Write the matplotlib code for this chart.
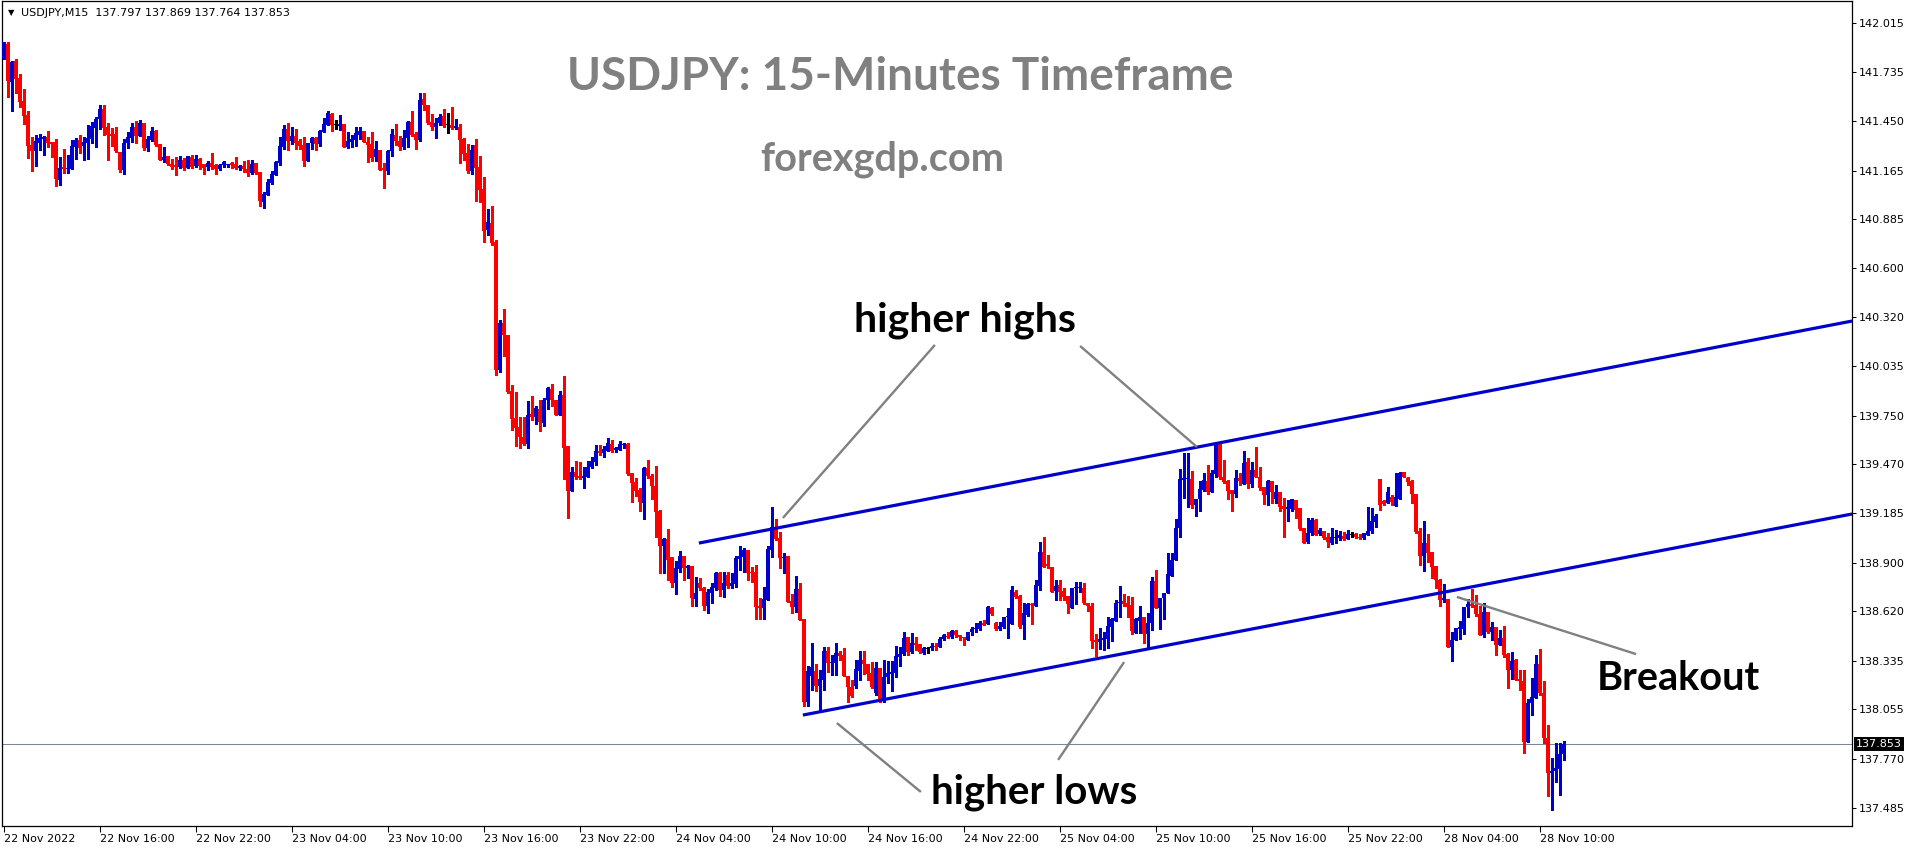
import matplotlib
matplotlib.use("Agg")
import matplotlib.pyplot as plt
import numpy as np

# ---------------- data (USDJPY M15 candles) ----------------
opens = [
141.809, 141.896, 141.676, 141.797, 141.699, 141.566, 141.486, 141.312, 141.278, 141.324,
141.347, 141.359, 141.330, 141.330, 141.110, 141.185, 141.174, 141.174, 141.301, 141.341,
141.307, 141.324, 141.347, 141.411, 141.462, 141.520, 141.416, 141.376, 141.376, 141.272,
141.168, 141.324, 141.353, 141.416, 141.364, 141.439, 141.295, 141.341, 141.393, 141.318,
141.226, 141.249, 141.203, 141.197, 141.185, 141.226, 141.180, 141.243, 141.191, 141.232,
141.203, 141.185, 141.208, 141.197, 141.174, 141.197, 141.197, 141.208, 141.203, 141.180,
141.191, 141.174, 141.151, 141.208, 141.157, 140.983, 141.024, 141.093, 141.139, 141.208,
141.301, 141.405, 141.335, 141.364, 141.335, 141.312, 141.220, 141.324, 141.353, 141.318,
141.387, 141.428, 141.491, 141.428, 141.422, 141.434, 141.301, 141.330, 141.341, 141.370,
141.393, 141.330, 141.318, 141.243, 141.284, 141.180, 141.162, 141.278, 141.370, 141.335,
141.301, 141.353, 141.445, 141.376, 141.341, 141.578, 141.543, 141.445, 141.416, 141.439,
141.480, 141.428, 141.428, 141.411, 141.416, 141.347, 141.266, 141.162, 141.312, 141.185,
141.058, 140.822, 140.862, 140.752, 140.013, 140.285, 140.215, 139.892, 139.736, 139.684,
139.626, 139.586, 139.759, 139.742, 139.788, 139.707, 139.840, 139.904, 139.840, 139.753,
139.869, 139.574, 139.315, 139.424, 139.401, 139.390, 139.396, 139.453, 139.482, 139.546,
139.534, 139.546, 139.586, 139.551, 139.551, 139.580, 139.586, 139.419, 139.367, 139.320,
139.245, 139.447, 139.401, 139.343, 139.199, 138.997, 139.037, 138.934, 138.783, 138.864,
138.940, 138.870, 138.882, 138.691, 138.783, 138.754, 138.651, 138.726, 138.754, 138.841,
138.743, 138.830, 138.766, 138.778, 138.922, 138.934, 138.974, 138.847, 138.847, 138.651,
138.639, 138.685, 138.974, 139.101, 139.043, 138.928, 138.940, 138.680, 138.645, 138.749,
138.575, 138.096, 138.247, 138.275, 138.189, 138.223, 138.391, 138.322, 138.322, 138.379,
138.368, 138.247, 138.183, 138.189, 138.275, 138.339, 138.316, 138.264, 138.148, 138.293,
138.114, 138.241, 138.258, 138.264, 138.356, 138.373, 138.471, 138.385, 138.437, 138.431,
138.379, 138.408, 138.408, 138.420, 138.414, 138.460, 138.477, 138.471, 138.506, 138.483,
138.471, 138.454, 138.500, 138.517, 138.517, 138.552, 138.546, 138.639, 138.552, 138.517,
138.529, 138.587, 138.546, 138.731, 138.708, 138.541, 138.599, 138.662, 138.651, 138.766,
138.963, 138.893, 138.876, 138.737, 138.772, 138.737, 138.708, 138.639, 138.754, 138.754,
138.754, 138.668, 138.651, 138.454, 138.443, 138.454, 138.460, 138.529, 138.564, 138.668,
138.680, 138.668, 138.657, 138.494, 138.564, 138.587, 138.489, 138.552, 138.795, 138.639,
138.697, 138.726, 138.824, 138.916, 139.101, 139.378, 139.384, 139.384, 139.234, 139.268,
139.320, 139.372, 139.309, 139.413, 139.586, 139.396, 139.372, 139.320, 139.297, 139.390,
139.355, 139.482, 139.355, 139.436, 139.396, 139.338, 139.292, 139.372, 139.268, 139.309,
139.228, 139.211, 139.211, 139.263, 139.216, 139.101, 139.020, 139.072, 139.147, 139.066,
139.084, 139.049, 139.014, 139.043, 139.043, 139.055, 139.037, 139.066, 139.066, 139.049,
139.043, 139.060, 139.084, 139.136, 139.384, 139.257, 139.245, 139.280, 139.228, 139.268,
139.424, 139.390, 139.372, 139.297, 139.084, 138.940, 139.014, 138.963, 138.882, 138.801,
138.685, 138.691, 138.414, 138.454, 138.517, 138.517, 138.645, 138.662, 138.657, 138.604,
138.483, 138.616, 138.500, 138.529, 138.425, 138.466, 138.373, 138.281, 138.339, 138.229,
138.218, 137.865, 138.091, 138.119, 138.316, 138.148, 137.888, 137.686, 137.698, 137.709,
137.797]

highs = [
141.907, 141.907, 141.797, 141.809, 141.722, 141.636, 141.509, 141.359, 141.370, 141.376,
141.364, 141.393, 141.330, 141.347, 141.243, 141.289, 141.255, 141.341, 141.353, 141.370,
141.359, 141.428, 141.445, 141.474, 141.543, 141.543, 141.439, 141.411, 141.416, 141.272,
141.347, 141.387, 141.439, 141.451, 141.457, 141.439, 141.364, 141.416, 141.399, 141.318,
141.301, 141.249, 141.232, 141.243, 141.249, 141.237, 141.249, 141.255, 141.255, 141.237,
141.203, 141.220, 141.266, 141.203, 141.203, 141.220, 141.203, 141.214, 141.243, 141.197,
141.220, 141.226, 141.226, 141.208, 141.157, 141.041, 141.116, 141.162, 141.220, 141.359,
141.428, 141.439, 141.416, 141.405, 141.347, 141.359, 141.324, 141.359, 141.359, 141.399,
141.468, 141.509, 141.497, 141.457, 141.486, 141.434, 141.387, 141.370, 141.416, 141.416,
141.393, 141.359, 141.387, 141.335, 141.284, 141.208, 141.284, 141.405, 141.434, 141.364,
141.399, 141.451, 141.509, 141.387, 141.613, 141.613, 141.543, 141.491, 141.468, 141.491,
141.520, 141.497, 141.532, 141.462, 141.434, 141.353, 141.318, 141.312, 141.347, 141.249,
141.128, 140.943, 140.960, 140.764, 140.302, 140.365, 140.215, 139.927, 139.886, 139.742,
139.742, 139.834, 139.863, 139.805, 139.840, 139.852, 139.915, 139.932, 139.840, 139.892,
139.978, 139.574, 139.453, 139.488, 139.482, 139.453, 139.488, 139.511, 139.580, 139.580,
139.574, 139.621, 139.609, 139.569, 139.603, 139.592, 139.592, 139.419, 139.390, 139.332,
139.453, 139.494, 139.413, 139.459, 139.205, 139.043, 139.095, 138.934, 138.911, 138.968,
138.940, 138.887, 138.882, 138.818, 138.812, 138.760, 138.749, 138.783, 138.847, 138.847,
138.847, 138.847, 138.841, 138.940, 138.997, 138.986, 138.974, 138.876, 138.887, 138.697,
138.760, 138.997, 139.222, 139.153, 139.078, 138.957, 138.940, 138.720, 138.824, 138.783,
138.575, 138.304, 138.437, 138.316, 138.281, 138.414, 138.414, 138.368, 138.437, 138.391,
138.408, 138.247, 138.223, 138.339, 138.391, 138.391, 138.316, 138.327, 138.327, 138.293,
138.339, 138.333, 138.333, 138.420, 138.414, 138.500, 138.471, 138.494, 138.471, 138.431,
138.414, 138.414, 138.437, 138.437, 138.471, 138.489, 138.500, 138.512, 138.512, 138.483,
138.471, 138.500, 138.529, 138.552, 138.564, 138.570, 138.651, 138.645, 138.558, 138.558,
138.587, 138.639, 138.766, 138.743, 138.714, 138.668, 138.668, 138.668, 138.801, 139.020,
139.049, 138.945, 138.876, 138.801, 138.801, 138.754, 138.708, 138.754, 138.789, 138.789,
138.783, 138.668, 138.668, 138.489, 138.523, 138.500, 138.587, 138.581, 138.685, 138.766,
138.720, 138.708, 138.703, 138.581, 138.651, 138.587, 138.610, 138.818, 138.859, 138.697,
138.726, 138.957, 138.957, 139.153, 139.442, 139.534, 139.534, 139.430, 139.268, 139.372,
139.419, 139.465, 139.436, 139.597, 139.586, 139.494, 139.378, 139.320, 139.436, 139.419,
139.546, 139.505, 139.482, 139.569, 139.453, 139.338, 139.378, 139.372, 139.349, 139.309,
139.274, 139.263, 139.268, 139.263, 139.216, 139.101, 139.159, 139.159, 139.153, 139.101,
139.084, 139.072, 139.101, 139.089, 139.084, 139.078, 139.089, 139.078, 139.072, 139.066,
139.072, 139.222, 139.216, 139.182, 139.384, 139.263, 139.338, 139.292, 139.419, 139.424,
139.424, 139.396, 139.378, 139.297, 139.101, 139.141, 139.066, 138.963, 138.882, 138.806,
138.778, 138.691, 138.500, 138.523, 138.564, 138.645, 138.691, 138.749, 138.714, 138.651,
138.668, 138.616, 138.558, 138.529, 138.512, 138.535, 138.379, 138.385, 138.344, 138.281,
138.281, 138.114, 138.235, 138.368, 138.402, 138.218, 137.963, 137.773, 137.860, 137.860,
137.869]

lows = [
141.809, 141.590, 141.509, 141.613, 141.532, 141.434, 141.237, 141.162, 141.191, 141.284,
141.255, 141.301, 141.243, 141.076, 141.081, 141.151, 141.151, 141.174, 141.232, 141.266,
141.226, 141.232, 141.324, 141.301, 141.405, 141.370, 141.226, 141.307, 141.272, 141.157,
141.145, 141.295, 141.330, 141.324, 141.364, 141.284, 141.278, 141.335, 141.307, 141.226,
141.214, 141.197, 141.174, 141.139, 141.180, 141.168, 141.180, 141.180, 141.185, 141.174,
141.145, 141.168, 141.174, 141.145, 141.168, 141.185, 141.185, 141.180, 141.174, 141.168,
141.157, 141.133, 141.145, 141.145, 140.960, 140.949, 141.024, 141.087, 141.139, 141.197,
141.289, 141.284, 141.318, 141.289, 141.289, 141.191, 141.220, 141.289, 141.284, 141.307,
141.387, 141.428, 141.393, 141.405, 141.399, 141.301, 141.295, 141.301, 141.307, 141.347,
141.330, 141.214, 141.220, 141.220, 141.168, 141.064, 141.145, 141.249, 141.312, 141.284,
141.289, 141.301, 141.364, 141.289, 141.335, 141.514, 141.434, 141.399, 141.353, 141.428,
141.416, 141.382, 141.405, 141.405, 141.208, 141.226, 141.151, 141.145, 140.989, 140.983,
140.752, 140.793, 140.735, 139.984, 140.002, 140.094, 139.880, 139.667, 139.574, 139.563,
139.580, 139.563, 139.725, 139.701, 139.661, 139.690, 139.788, 139.805, 139.753, 139.753,
139.384, 139.159, 139.315, 139.384, 139.384, 139.332, 139.396, 139.447, 139.465, 139.523,
139.511, 139.546, 139.540, 139.540, 139.551, 139.563, 139.407, 139.251, 139.286, 139.199,
139.153, 139.390, 139.268, 139.049, 138.841, 138.841, 138.801, 138.760, 138.720, 138.847,
138.801, 138.812, 138.651, 138.651, 138.743, 138.628, 138.610, 138.668, 138.743, 138.708,
138.703, 138.754, 138.754, 138.760, 138.859, 138.847, 138.801, 138.789, 138.575, 138.575,
138.575, 138.685, 138.934, 139.032, 138.870, 138.841, 138.674, 138.610, 138.616, 138.570,
138.073, 138.073, 138.166, 138.160, 138.044, 138.166, 138.270, 138.253, 138.253, 138.339,
138.247, 138.096, 138.125, 138.177, 138.223, 138.258, 138.223, 138.177, 138.137, 138.096,
138.096, 138.206, 138.160, 138.241, 138.304, 138.368, 138.368, 138.379, 138.397, 138.379,
138.373, 138.379, 138.397, 138.397, 138.414, 138.454, 138.466, 138.466, 138.471, 138.454,
138.425, 138.454, 138.483, 138.500, 138.512, 138.541, 138.546, 138.599, 138.512, 138.512,
138.523, 138.466, 138.546, 138.697, 138.523, 138.460, 138.593, 138.546, 138.651, 138.743,
138.876, 138.870, 138.731, 138.685, 138.685, 138.685, 138.610, 138.639, 138.662, 138.731,
138.662, 138.622, 138.408, 138.362, 138.402, 138.397, 138.408, 138.448, 138.564, 138.587,
138.651, 138.587, 138.489, 138.494, 138.494, 138.437, 138.414, 138.512, 138.639, 138.517,
138.575, 138.726, 138.824, 138.916, 139.049, 139.274, 139.222, 139.216, 139.170, 139.199,
139.315, 139.297, 139.309, 139.396, 139.384, 139.361, 139.268, 139.199, 139.280, 139.349,
139.355, 139.332, 139.338, 139.396, 139.320, 139.240, 139.234, 139.245, 139.245, 139.199,
139.049, 139.141, 139.199, 139.159, 139.089, 139.014, 139.014, 139.060, 139.060, 139.060,
139.037, 138.992, 139.009, 139.014, 139.032, 139.032, 139.037, 139.049, 139.043, 139.037,
139.037, 139.060, 139.072, 139.107, 139.205, 139.234, 139.245, 139.234, 139.228, 139.268,
139.396, 139.349, 139.245, 139.072, 138.887, 138.853, 138.905, 138.812, 138.754, 138.651,
138.674, 138.414, 138.333, 138.454, 138.460, 138.489, 138.587, 138.645, 138.593, 138.483,
138.471, 138.494, 138.454, 138.368, 138.425, 138.356, 138.177, 138.229, 138.223, 138.166,
137.802, 137.865, 138.021, 138.119, 138.137, 137.860, 137.554, 137.473, 137.634, 137.560,
137.764]

closes = [
141.907, 141.682, 141.792, 141.693, 141.561, 141.480, 141.307, 141.278, 141.335, 141.353,
141.359, 141.324, 141.318, 141.116, 141.180, 141.174, 141.180, 141.307, 141.341, 141.295,
141.330, 141.353, 141.422, 141.462, 141.520, 141.411, 141.370, 141.364, 141.278, 141.168,
141.324, 141.359, 141.416, 141.364, 141.439, 141.295, 141.347, 141.393, 141.312, 141.226,
141.243, 141.203, 141.185, 141.185, 141.226, 141.180, 141.249, 141.185, 141.232, 141.191,
141.180, 141.208, 141.185, 141.174, 141.197, 141.214, 141.203, 141.197, 141.180, 141.191,
141.174, 141.151, 141.203, 141.151, 140.989, 141.029, 141.099, 141.145, 141.214, 141.307,
141.405, 141.335, 141.364, 141.324, 141.307, 141.220, 141.324, 141.353, 141.318, 141.393,
141.434, 141.497, 141.428, 141.428, 141.434, 141.301, 141.335, 141.347, 141.382, 141.393,
141.330, 141.312, 141.237, 141.289, 141.168, 141.168, 141.278, 141.376, 141.335, 141.301,
141.353, 141.445, 141.370, 141.341, 141.572, 141.543, 141.439, 141.416, 141.439, 141.474,
141.422, 141.428, 141.411, 141.422, 141.341, 141.260, 141.162, 141.284, 141.180, 141.053,
140.816, 140.868, 140.747, 140.013, 140.285, 140.215, 139.886, 139.730, 139.678, 139.626,
139.586, 139.753, 139.742, 139.794, 139.713, 139.840, 139.909, 139.840, 139.753, 139.869,
139.563, 139.315, 139.424, 139.396, 139.390, 139.401, 139.453, 139.488, 139.546, 139.534,
139.557, 139.592, 139.546, 139.563, 139.586, 139.586, 139.413, 139.361, 139.315, 139.251,
139.447, 139.401, 139.343, 139.193, 138.997, 139.037, 138.916, 138.783, 138.870, 138.940,
138.870, 138.882, 138.697, 138.726, 138.754, 138.651, 138.731, 138.760, 138.841, 138.743,
138.783, 138.766, 138.783, 138.928, 138.940, 138.974, 138.841, 138.841, 138.645, 138.639,
138.691, 138.980, 139.107, 139.037, 138.928, 138.934, 138.674, 138.645, 138.749, 138.570,
138.096, 138.275, 138.299, 138.189, 138.229, 138.391, 138.322, 138.327, 138.379, 138.362,
138.247, 138.183, 138.131, 138.287, 138.339, 138.316, 138.258, 138.183, 138.293, 138.114,
138.241, 138.264, 138.270, 138.362, 138.373, 138.466, 138.385, 138.437, 138.425, 138.385,
138.408, 138.408, 138.420, 138.414, 138.460, 138.483, 138.471, 138.506, 138.483, 138.471,
138.466, 138.500, 138.517, 138.523, 138.552, 138.541, 138.645, 138.604, 138.517, 138.535,
138.587, 138.593, 138.743, 138.703, 138.529, 138.610, 138.662, 138.657, 138.772, 138.963,
138.876, 138.882, 138.731, 138.766, 138.731, 138.703, 138.662, 138.754, 138.760, 138.760,
138.668, 138.651, 138.448, 138.443, 138.460, 138.466, 138.535, 138.575, 138.668, 138.674,
138.662, 138.645, 138.506, 138.575, 138.587, 138.489, 138.552, 138.795, 138.639, 138.697,
138.726, 138.836, 138.916, 139.101, 139.384, 139.390, 139.390, 139.234, 139.268, 139.326,
139.378, 139.309, 139.419, 139.586, 139.396, 139.367, 139.315, 139.297, 139.390, 139.372,
139.476, 139.355, 139.436, 139.396, 139.332, 139.292, 139.372, 139.309, 139.309, 139.222,
139.211, 139.222, 139.268, 139.205, 139.095, 139.014, 139.072, 139.147, 139.060, 139.089,
139.043, 139.020, 139.049, 139.049, 139.060, 139.037, 139.066, 139.066, 139.049, 139.043,
139.072, 139.084, 139.141, 139.170, 139.234, 139.240, 139.309, 139.251, 139.280, 139.419,
139.396, 139.367, 139.297, 139.078, 138.940, 139.014, 138.957, 138.876, 138.801, 138.685,
138.697, 138.414, 138.454, 138.523, 138.529, 138.645, 138.662, 138.651, 138.604, 138.483,
138.616, 138.500, 138.529, 138.425, 138.466, 138.368, 138.281, 138.333, 138.223, 138.218,
137.865, 138.091, 138.125, 138.316, 138.148, 137.888, 137.686, 137.698, 137.715, 137.796,
137.853]

# price-axis labels and time-axis labels (bar index -> label)
ytick_values = [142.015, 141.735, 141.450, 141.165, 140.885, 140.600, 140.320, 140.035,
                139.750, 139.470, 139.185, 138.900, 138.620, 138.335, 138.055, 137.770, 137.485]
xtick_bars = [0, 24, 48, 72, 96, 120, 144, 168, 192, 216, 240, 264, 288, 312, 336, 360, 384]
xtick_labels = ["22 Nov 2022", "22 Nov 16:00", "22 Nov 22:00", "23 Nov 04:00", "23 Nov 10:00",
                "23 Nov 16:00", "23 Nov 22:00", "24 Nov 04:00", "24 Nov 10:00", "24 Nov 16:00",
                "24 Nov 22:00", "25 Nov 04:00", "25 Nov 10:00", "25 Nov 16:00", "25 Nov 22:00",
                "28 Nov 04:00", "28 Nov 10:00"]

# channel trend lines (bar, price) anchors
upper_line_bars = [173.8, 462.1]
upper_line_prices = [139.014, 140.296]
lower_line_bars = [199.8, 462.1]
lower_line_prices = [138.021, 139.182]

# grey pointer lines (bar, price) anchors
pointer_bars = [(232.8, 194.8), (269.1, 298.3), (208.3, 229.3), (280.1, 263.6), (363.3, 408.1)]
pointer_prices = [(140.158, 139.159), (140.152, 139.569), (137.975, 137.577), (138.327, 137.762), (138.703, 138.373)]

symbol = "USDJPY,M15"

# ---------------- figure ----------------
W, H = 1916, 850
plt.rcParams['font.family'] = ['DejaVu Sans']
fig = plt.figure(figsize=(W / 100, H / 100), dpi=100)
fig.patch.set_facecolor('white')

PX_L, PX_R, PX_T, PX_B = 2, 1852, 1, 826
ax = fig.add_axes([PX_L / W, 1 - PX_B / H, (PX_R - PX_L) / W, (PX_B - PX_T) / H])
ax.set_facecolor('white')

def fx(x):
    return x / W

def fy(y):
    return 1 - y / H

BULL = '#0000CD'
BEAR = '#FF0000'
DOJI = '#000000'

o = np.array(opens)
h = np.array(highs)
l = np.array(lows)
c = np.array(closes)
idx = np.arange(len(o))
cols = np.where(c > o, BULL, np.where(c < o, BEAR, DOJI))

top = np.maximum(h, np.maximum(o, c))
bot = np.minimum(l, np.minimum(o, c))
ax.vlines(idx, bot, top, colors=cols, linewidth=0.75, antialiased=False, zorder=2)
min_h = 0.006
body_lo = np.minimum(o, c)
body_h = np.abs(c - o)
small = body_h < min_h
body_lo = np.where(small, (o + c) / 2 - min_h / 2, body_lo)
body_h = np.where(small, min_h, body_h)
ax.bar(idx, body_h, bottom=body_lo, width=0.7, color=cols, linewidth=0, antialiased=False, zorder=3)

# last price line
ax.axhline(c[-1], color='#778899', linewidth=0.75, zorder=1)

# channel lines
ax.plot(upper_line_bars, upper_line_prices, color='#0000CD', linewidth=2.3, solid_capstyle='butt', zorder=4)
ax.plot(lower_line_bars, lower_line_prices, color='#0000CD', linewidth=2.3, solid_capstyle='butt', zorder=4)

# pointer lines
for xs, ys in zip(pointer_bars, pointer_prices):
    ax.plot(xs, ys, color='#808080', linewidth=1.7, solid_capstyle='butt', zorder=4)

# axes limits
ax.set_xlim(-0.425, 462.075)
ax.set_ylim(137.3805, 142.1438)

# ticks
ax.yaxis.tick_right()
ax.set_yticks(ytick_values)
ax.set_yticklabels([f"{v:.3f}" for v in ytick_values])
ax.tick_params(axis='y', length=3, width=0.75, pad=2, labelsize=8, colors='black')
ax.set_xticks(xtick_bars)
ax.set_xticklabels(xtick_labels, ha='left')
ax.tick_params(axis='x', length=4, width=0.75, pad=2, labelsize=8, colors='black')
for s in ax.spines.values():
    s.set_linewidth(0.9)
    s.set_color('black')

# header
fig.text(fx(11), fy(12.5), '\u25BC', fontsize=6, ha='center', va='center', color='black')
fig.text(fx(21), fy(12.5),
         f"{symbol}  {opens[-1]:.3f} {highs[-1]:.3f} {lows[-1]:.3f} {closes[-1]:.3f}",
         fontsize=8, ha='left', va='center', color='black')

# last price tag
fig.text(fx(1856), fy(744), f"{closes[-1]:.3f}", fontsize=8, ha='left', va='center', color='white',
         bbox=dict(facecolor='black', edgecolor='none', pad=1.2))

# annotations
bold = dict(family=['Lato', 'DejaVu Sans'], fontweight='bold')
fig.text(fx(900), fy(77), 'USDJPY: 15-Minutes Timeframe', fontsize=33, color='#808080',
         ha='center', va='center', **bold)
fig.text(fx(882), fy(159), 'forexgdp.com', fontsize=28.5, color='#808080',
         ha='center', va='center', **bold)
fig.text(fx(965), fy(320), 'higher highs', fontsize=29.5, color='black',
         ha='center', va='center', **bold)
fig.text(fx(1034), fy(792), 'higher lows', fontsize=29, color='black',
         ha='center', va='center', **bold)
fig.text(fx(1678), fy(678), 'Breakout', fontsize=28.5, color='black',
         ha='center', va='center', **bold)

fig.savefig('out.png', dpi=100, facecolor='white')
